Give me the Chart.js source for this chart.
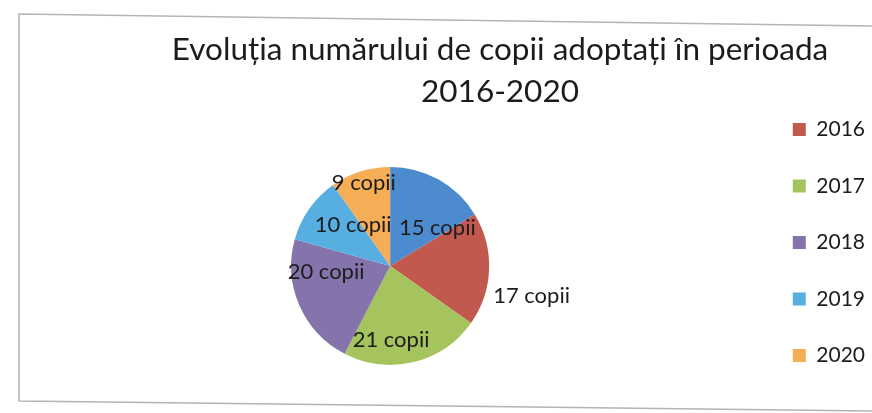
<!DOCTYPE html>
<html>
<head>
<meta charset="utf-8">
<script src="https://cdn.jsdelivr.net/npm/chart.js@4.4.0/dist/chart.umd.min.js"></script>
<style>
html, body { margin: 0; padding: 0; background: #fff; }
#wrap { width: 872px; height: 413px; position: relative; }
</style>
</head>
<body>
<div id="wrap"><canvas id="grafic"></canvas></div>
<script>
var categorii = ['', '2016', '2017', '2018', '2019', '2020'];
var copii = [15, 17, 21, 20, 10, 9];
var etichete = ['15 copii', '17 copii', '21 copii', '20 copii', '10 copii', '9 copii'];
var culori = ['#4d8bcf', '#c2594f', '#a5c45e', '#8573ab', '#57afe1', '#f5ad56'];
var titlu = ['Evoluția numărului de copii adoptați în perioada', '2016-2020'];

// asezarea etichetelor: fractie din raza si o mica rotire (grade) fata de mijlocul felii
var distEticheta = [0.61, 1.46, 0.75, 0.65, 0.56, 0.88];
var rotireEticheta = [22, 10, 13, 18, 13, 0];

var chenar = {
    id: 'chenar',
    beforeDraw: function (chart) {
        var ctx = chart.ctx;
        ctx.save();
        ctx.strokeStyle = '#b4b4b4';
        ctx.lineWidth = 1.5;
        ctx.beginPath();
        ctx.moveTo(872, 26);
        ctx.lineTo(19, 14);
        ctx.lineTo(19, 401);
        ctx.lineTo(872, 411);
        ctx.stroke();
        ctx.restore();
    }
};

var textePlugin = {
    id: 'texte',
    afterLayout: function (chart) {
        // titlul e mutat spre dreapta, legenda mai jos
        var t = chart.titleBlock;
        t.left += 51;
        t.right += 51;
        var l = chart.legend;
        l.top += 36;
        l.bottom += 36;
        l.left += 3;
        l.right += 3;
    },
    afterDatasetsDraw: function (chart) {
        var ctx = chart.ctx;
        var meta = chart.getDatasetMeta(0);
        ctx.save();
        ctx.font = '22px Lato';
        ctx.fillStyle = '#1c1c1c';
        ctx.textAlign = 'center';
        ctx.textBaseline = 'middle';
        meta.data.forEach(function (arc, i) {
            var unghi = (arc.startAngle + arc.endAngle) / 2 + rotireEticheta[i] * Math.PI / 180;
            var r = arc.outerRadius * distEticheta[i];
            ctx.fillText(etichete[i], arc.x + Math.cos(unghi) * r, arc.y + Math.sin(unghi) * r);
        });
        ctx.restore();
    }
};

var grafic = new Chart(document.getElementById('grafic'), {
    type: 'pie',
    data: {
        labels: categorii,
        datasets: [{
            data: copii,
            backgroundColor: culori,
            borderWidth: 0,
            radius: 99
        }]
    },
    options: {
        responsive: true,
        maintainAspectRatio: false,
        animation: false,
        layout: {
            padding: { top: 0, bottom: 0, left: 26, right: 0 }
        },
        plugins: {
            tooltip: { enabled: false },
            title: {
                display: true,
                text: titlu,
                color: '#1c1c1c',
                font: { family: 'Lato', size: 31.5, weight: 'normal', lineHeight: 1.33 },
                padding: { top: 29, bottom: 6 }
            },
            legend: {
                position: 'right',
                labels: {
                    boxWidth: 13,
                    boxHeight: 13,
                    padding: 35.5,
                    color: '#1c1c1c',
                    font: { family: 'Lato', size: 21 },
                    filter: function (item) { return item.text !== ''; }
                }
            }
        }
    },
    plugins: [chenar, textePlugin]
});
</script>
</body>
</html>
